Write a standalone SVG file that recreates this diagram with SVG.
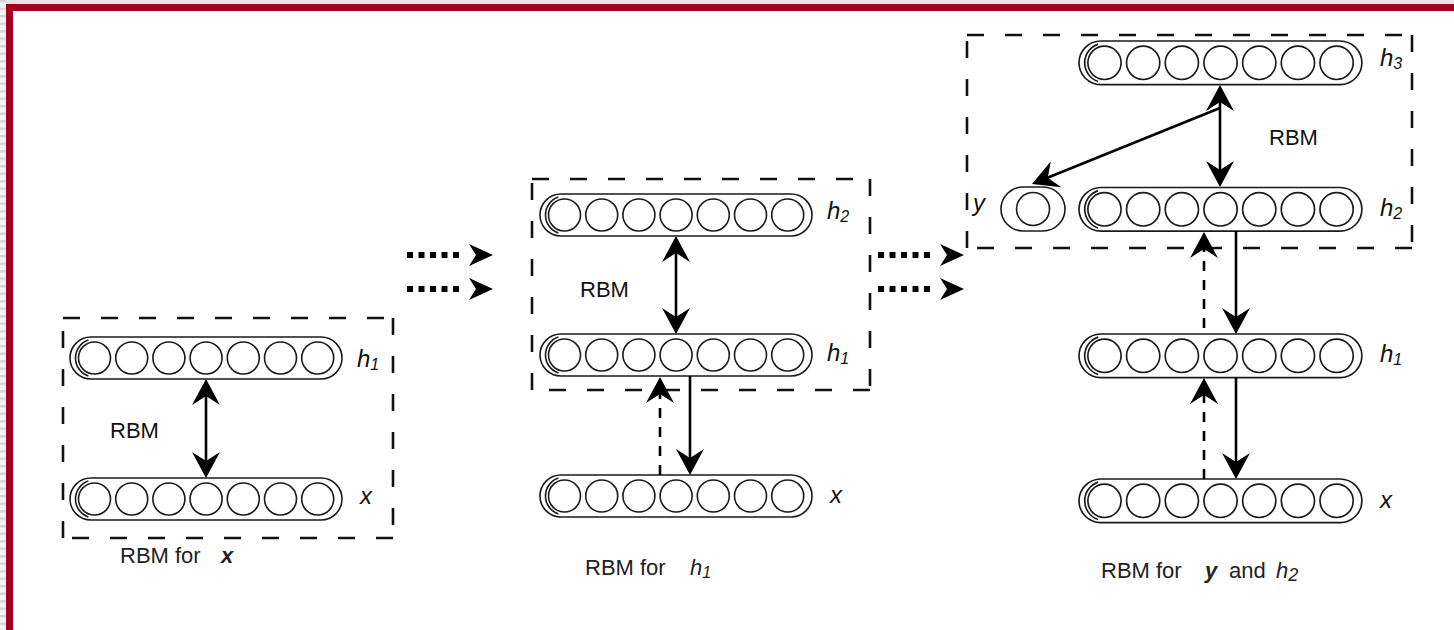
<svg xmlns="http://www.w3.org/2000/svg" xmlns:xlink="http://www.w3.org/1999/xlink" width="1454" height="630" viewBox="0 0 1454 630">
<style>
.pill{fill:none;stroke:#1a1a1a;stroke-width:1.6}
.box{fill:none;stroke:#111;stroke-width:2.6;stroke-dasharray:17 21}
.arr{fill:none;stroke:#000;stroke-width:2.6}
.dsh{stroke-dasharray:10 9}
.dot{fill:none;stroke:#000;stroke-width:6;stroke-dasharray:6 5.5}
.lbl{font-family:"Liberation Sans",Arial,sans-serif;font-style:italic;font-size:24px;fill:#111}
.sub{font-size:16px}
.rbm{font-family:"Liberation Sans",Arial,sans-serif;font-size:22px;fill:#111}
.cap{font-family:"Liberation Sans",Arial,sans-serif;font-size:22px;fill:#222}
.capi{font-style:italic}
.capb{font-style:italic;font-weight:bold}
</style>
<defs>
<pattern id="stripes" width="6" height="7.5" patternUnits="userSpaceOnUse">
<rect width="6" height="7.5" fill="#f4f4f4"/>
<rect width="6" height="2.5" fill="#d6d6d6"/>
</pattern>
<marker id="head" viewBox="0 0 26 28" refX="18" refY="14" markerWidth="26" markerHeight="28" markerUnits="userSpaceOnUse" orient="auto-start-reverse" overflow="visible">
<path d="M0,0 L26,14 L0,28 L9,14 Z" fill="#000"/>
</marker>
<marker id="dhead" viewBox="0 0 24 22" refX="-10" refY="11" markerWidth="24" markerHeight="22" markerUnits="userSpaceOnUse" orient="auto" overflow="visible">
<path d="M0,0 L24,11 L0,22 L7,11 Z" fill="#000"/>
</marker>
<g id="layer">
<rect class="pill" x="0" y="0" width="272" height="42" rx="21" ry="21"/>
<path class="pill" d="M18.4,3 A19,19 0 0 0 18.4,39"/>
<circle class="pill" cx="24.5" cy="21" r="16"/>
<circle class="pill" cx="61.7" cy="21" r="16"/>
<circle class="pill" cx="98.9" cy="21" r="16"/>
<circle class="pill" cx="136.1" cy="21" r="16"/>
<circle class="pill" cx="173.3" cy="21" r="16"/>
<circle class="pill" cx="210.5" cy="21" r="16"/>
<circle class="pill" cx="247.7" cy="21" r="16"/>
</g>
</defs>

<rect width="1454" height="630" fill="#fff"/>
<g id="frame">
<rect x="0" y="0" width="1454" height="4" fill="#e4e4e4"/>
<rect x="0" y="0" width="6" height="630" fill="url(#stripes)"/>
<rect x="6" y="4" width="1448" height="7" fill="#a5001f"/>
<rect x="6" y="4" width="7" height="626" fill="#a5001f"/>
</g>

<g id="boxes">
<g id="box-left">
<line class="box" x1="63" y1="318" x2="393" y2="318"/>
<line class="box" x1="393" y1="318" x2="393" y2="538"/>
<line class="box" x1="393" y1="538" x2="63" y2="538"/>
<line class="box" x1="63" y1="538" x2="63" y2="318"/>
</g>
<g id="box-middle">
<line class="box" x1="532" y1="179" x2="870" y2="179"/>
<line class="box" x1="870" y1="179" x2="870" y2="390"/>
<line class="box" x1="870" y1="390" x2="532" y2="390"/>
<line class="box" x1="532" y1="390" x2="532" y2="179"/>
</g>
<g id="box-right">
<line class="box" x1="967" y1="35" x2="1412" y2="35"/>
<line class="box" x1="1412" y1="35" x2="1412" y2="248"/>
<line class="box" x1="1412" y1="248" x2="967" y2="248"/>
<line class="box" x1="967" y1="248" x2="967" y2="35"/>
</g>
</g>

<g id="left-h1">
<use xlink:href="#layer" transform="translate(70,337)"/>
<text class="lbl" x="357" y="367">h<tspan class="sub" dy="3">1</tspan></text>
</g>
<g id="left-x">
<use xlink:href="#layer" transform="translate(70,478)"/>
<text class="lbl" x="360" y="504">x</text>
</g>

<g id="mid-h2">
<use xlink:href="#layer" transform="translate(540,194)"/>
<text class="lbl" x="827" y="219">h<tspan class="sub" dy="3">2</tspan></text>
</g>
<g id="mid-h1">
<use xlink:href="#layer" transform="translate(540,334)"/>
<text class="lbl" x="827" y="361">h<tspan class="sub" dy="3">1</tspan></text>
</g>
<g id="mid-x">
<use xlink:href="#layer" transform="translate(540,475)"/>
<text class="lbl" x="830" y="503">x</text>
</g>

<g id="right-h3">
<use xlink:href="#layer" transform="translate(1079,41) scale(1.04)"/>
<text class="lbl" x="1380" y="66">h<tspan class="sub" dy="3">3</tspan></text>
</g>
<g id="right-y">
<rect class="pill" x="1001" y="187" width="64" height="44" rx="22" ry="22"/>
<circle class="pill" cx="1033" cy="209" r="16.5"/>
<text class="lbl" x="973" y="211">y</text>
</g>
<g id="right-h2">
<use xlink:href="#layer" transform="translate(1079,187.5) scale(1.04)"/>
<text class="lbl" x="1380" y="216">h<tspan class="sub" dy="3">2</tspan></text>
</g>
<g id="right-h1">
<use xlink:href="#layer" transform="translate(1079,334) scale(1.04)"/>
<text class="lbl" x="1380" y="362">h<tspan class="sub" dy="3">1</tspan></text>
</g>
<g id="right-x">
<use xlink:href="#layer" transform="translate(1079,479) scale(1.04)"/>
<text class="lbl" x="1380" y="508">x</text>
</g>

<g id="connectors">
<line class="arr" x1="206" y1="387" x2="206" y2="470" marker-start="url(#head)" marker-end="url(#head)"/>
<line class="arr" x1="676" y1="244" x2="676" y2="326" marker-start="url(#head)" marker-end="url(#head)"/>
<line class="arr dsh" x1="660" y1="475" x2="660" y2="385" marker-end="url(#head)"/>
<line class="arr" x1="690" y1="376" x2="690" y2="467" marker-end="url(#head)"/>
<line class="arr" x1="1220" y1="93" x2="1220" y2="179" marker-start="url(#head)" marker-end="url(#head)"/>
<line class="arr" x1="1220" y1="108" x2="1039.4" y2="181" marker-end="url(#head)"/>
<line class="arr dsh" x1="1204" y1="328" x2="1204" y2="240" marker-end="url(#head)"/>
<line class="arr" x1="1236" y1="231" x2="1236" y2="326" marker-end="url(#head)"/>
<line class="arr dsh" x1="1204" y1="479" x2="1204" y2="386" marker-end="url(#head)"/>
<line class="arr" x1="1236" y1="378" x2="1236" y2="471" marker-end="url(#head)"/>
<line class="dot" x1="407" y1="255" x2="459" y2="255" marker-end="url(#dhead)"/>
<line class="dot" x1="407" y1="289" x2="459" y2="289" marker-end="url(#dhead)"/>
<line class="dot" x1="878" y1="255" x2="930" y2="255" marker-end="url(#dhead)"/>
<line class="dot" x1="878" y1="289" x2="930" y2="289" marker-end="url(#dhead)"/>
</g>

<g id="labels">
<text class="rbm" x="110" y="438">RBM</text>
<text class="rbm" x="580" y="297">RBM</text>
<text class="rbm" x="1269" y="145">RBM</text>
<text class="cap" x="120" y="563">RBM for</text>
<text class="cap capb" x="221" y="563">x</text>
<text class="cap" x="585" y="575">RBM for</text>
<text class="cap capi" x="690" y="575" font-size="24">h<tspan font-size="16" dy="3">1</tspan></text>
<text class="cap" x="1101" y="578">RBM for</text>
<text class="cap capb" x="1205" y="578">y</text>
<text class="cap" x="1229" y="578">and</text>
<text class="cap capi" x="1276" y="578" font-size="27">h<tspan font-size="18" dy="3">2</tspan></text>
</g>
</svg>
